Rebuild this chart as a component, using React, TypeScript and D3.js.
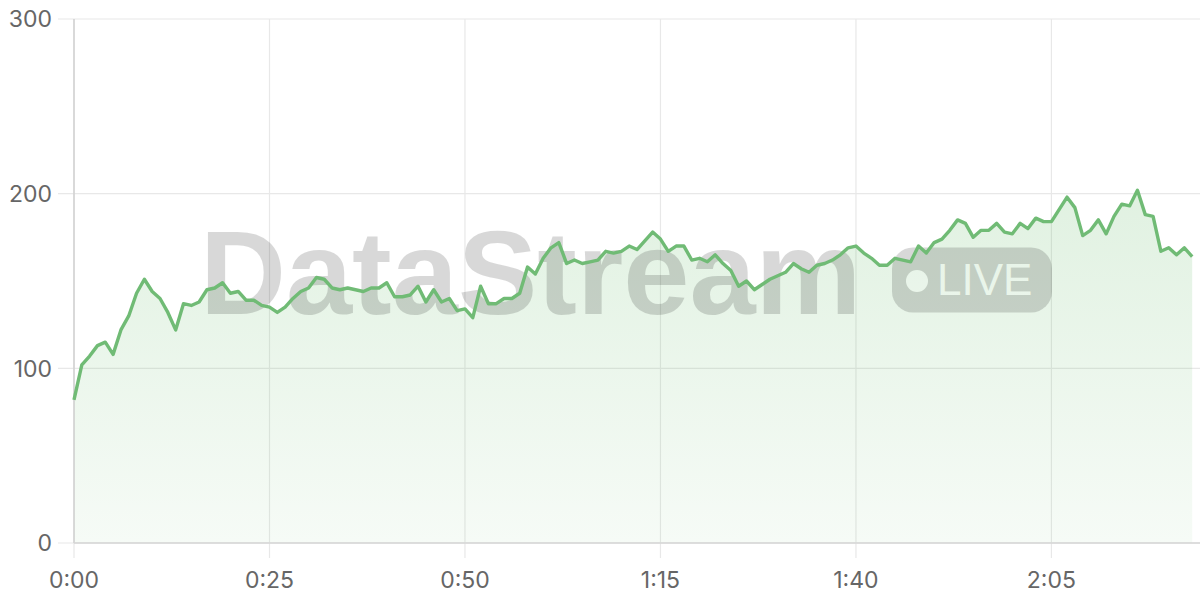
import React from "react";
import * as d3 from "d3";

const seconds: number[] = Array.from({ length: 144 }, (_, i) => i);
const values: number[] = [
  82, 102, 107, 113, 115, 108, 122, 130, 143, 151,
  144, 140, 132, 122, 137, 136, 138, 145, 146, 149,
  143, 144, 139, 139, 136, 135, 132, 135, 140, 144,
  146, 152, 151, 146, 145, 146, 145, 144, 146, 146,
  149, 141, 141, 142, 147, 138, 145, 138, 140, 133,
  134, 129, 147, 137, 137, 140, 140, 143, 158, 154,
  163, 169, 172, 160, 162, 160, 161, 162, 167, 166,
  167, 170, 168, 173, 178, 174, 167, 170, 170, 162,
  163, 161, 165, 160, 156, 147, 150, 145, 148, 151,
  153, 155, 160, 157, 155, 159, 160, 162, 165, 169,
  170, 166, 163, 159, 159, 163, 162, 161, 170, 166,
  172, 174, 179, 185, 183, 175, 179, 179, 183, 178,
  177, 183, 180, 186, 184, 184, 191, 198, 192, 176,
  179, 185, 177, 187, 194, 193, 202, 188, 187, 167,
  169, 165, 169, 164,
];
const xTicks: number[] = [0, 25, 50, 75, 100, 125];
const yTicks: number[] = [0, 100, 200, 300];

const W = 1200;
const H = 600;
const WM_FONT = "'Liberation Sans', Arial, Helvetica, sans-serif";
const LABEL_FONT = "Inter, 'Liberation Sans', Arial, sans-serif";

export default function App() {
  const x = d3.scaleLinear().domain([0, 144]).range([74, 1200]);
  const y = d3.scaleLinear().domain([0, 300]).range([543, 19]);
  const pts = seconds.map((s, i) => [s, values[i]] as [number, number]);
  const line = d3
    .line<[number, number]>()
    .x((d) => x(d[0]))
    .y((d) => y(d[1]))(pts);
  const area = d3
    .area<[number, number]>()
    .x((d) => x(d[0]))
    .y0(y(0))
    .y1((d) => y(d[1]))(pts);
  const fmt = (s: number) => `${Math.floor(s / 60)}:${String(s % 60).padStart(2, "0")}`;

  return (
    <svg
      width={W}
      height={H}
      style={{ position: "absolute", left: 0, top: 0, background: "#fff" }}
    >
      <defs>
        <linearGradient id="areaGrad" x1="0" y1="0" x2="0" y2="1">
          <stop offset="0%" stopColor="#4caf50" stopOpacity={0.17} />
          <stop offset="100%" stopColor="#4caf50" stopOpacity={0.05} />
        </linearGradient>
      </defs>
      {/* grid */}
      {yTicks.map((t) => (
        <line key={"gy" + t} x1={58} x2={W} y1={y(t)} y2={y(t)} stroke="#e8e8e8" strokeWidth={1.2} />
      ))}
      {xTicks.map((t) => (
        <line key={"gx" + t} x1={x(t)} x2={x(t)} y1={y(300)} y2={558} stroke="#e8e8e8" strokeWidth={1.2} />
      ))}
      <path d={area || ""} fill="url(#areaGrad)" />
      {/* axes */}
      <line x1={x(0)} x2={x(0)} y1={y(300)} y2={y(0)} stroke="#d0d0d0" strokeWidth={1.5} />
      <line x1={x(0)} x2={W} y1={y(0)} y2={y(0)} stroke="#d6d6d6" strokeWidth={1.5} />
      {/* watermark */}
      <g opacity={0.15}>
        <text x={200} y={314} fontFamily={WM_FONT} fontWeight={700} fontSize={119} fill="#000">
          DataStream
        </text>
        <rect x={892} y={247.5} width={160} height={65} rx={21} fill="#000" />
        <circle cx={917} cy={281} r={11} fill="#fff" />
        <text x={937} y={295} fontFamily={WM_FONT} fontSize={44} fill="#fff">
          LIVE
        </text>
      </g>
      <path d={line || ""} fill="none" stroke="#70bb75" strokeWidth={3.4} strokeLinejoin="round" />
      {/* labels */}
      {yTicks.map((t) => (
        <text
          key={"ly" + t}
          x={52}
          y={y(t)}
          dy="0.36em"
          textAnchor="end"
          fontFamily={LABEL_FONT}
          fontSize={23}
          fill="#666"
        >
          {t}
        </text>
      ))}
      {xTicks.map((t) => (
        <text
          key={"lx" + t}
          x={x(t)}
          y={588}
          textAnchor="middle"
          fontFamily={LABEL_FONT}
          fontSize={23}
          fill="#666"
        >
          {fmt(t)}
        </text>
      ))}
    </svg>
  );
}
